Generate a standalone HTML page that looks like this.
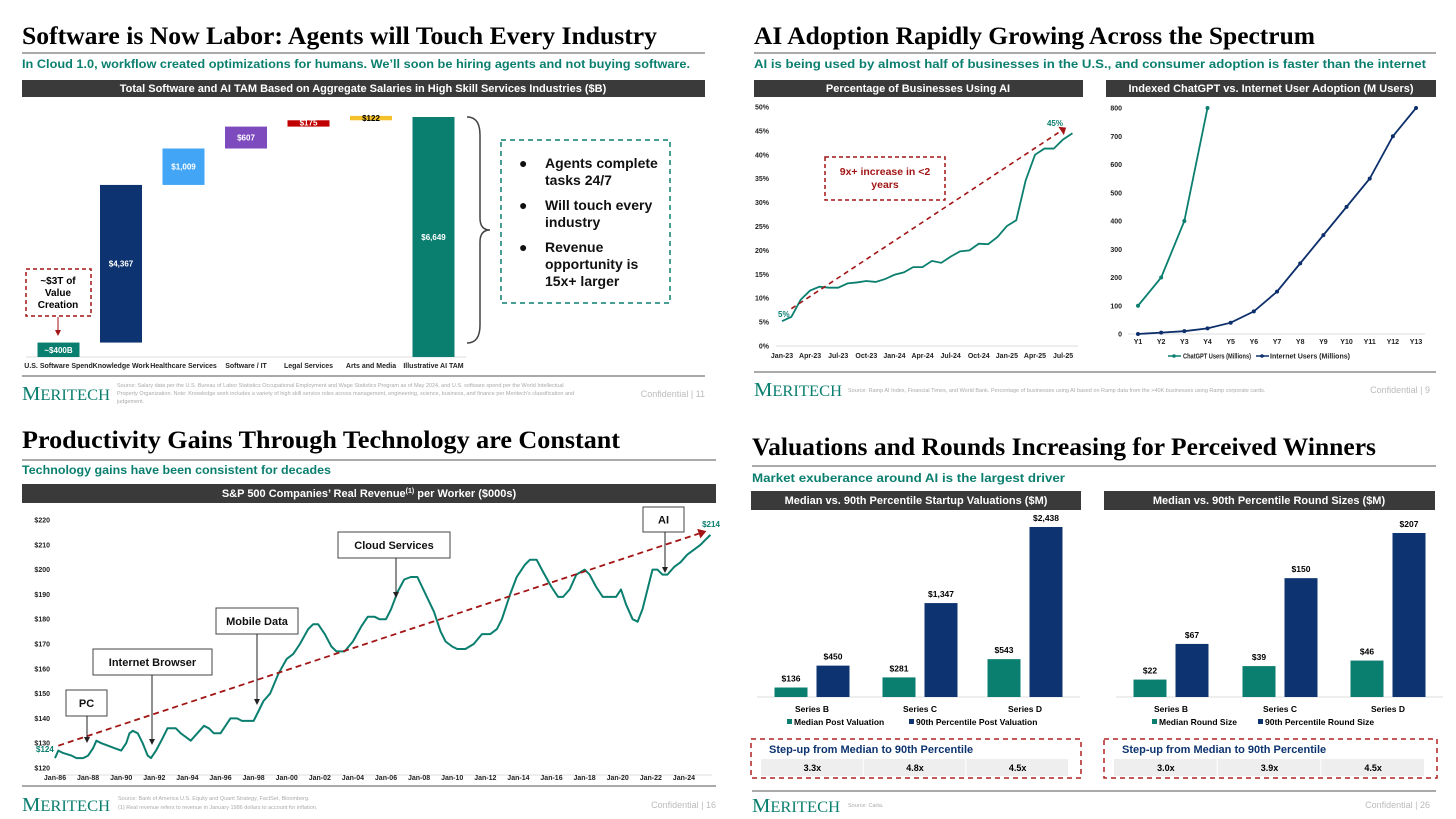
<!DOCTYPE html>
<html><head><meta charset="utf-8"><style>
html,body{margin:0;padding:0;background:#fff;}
svg{display:block;font-family:"Liberation Sans",Arial,sans-serif;}
.ttl{font-family:"Liberation Serif",serif;font-weight:bold;font-size:25px;fill:#000;}
.sub{font-weight:bold;font-size:12px;fill:#0b7f6f;}
.hdr{font-weight:bold;font-size:11px;fill:#fff;}
.ax{font-weight:bold;font-size:7px;fill:#222;}
.logo{font-family:"Liberation Serif",serif;font-size:20px;fill:#0b7f6f;}
.src{font-size:5.5px;fill:#aaa;}
.conf{font-size:9px;fill:#bbb;}
.ann{font-weight:bold;font-size:11px;fill:#111;}
</style></head><body>
<svg id="root" width="1456" height="819" viewBox="0 0 1456 819">
<!-- Slide 1 -->
<g>
<text class="ttl" x="22" y="44" textLength="635" lengthAdjust="spacingAndGlyphs">Software is Now Labor: Agents will Touch Every Industry</text>
<line x1="22" y1="53" x2="705" y2="53" stroke="#555" stroke-width="1"/>
<text class="sub" x="22" y="68" textLength="668" lengthAdjust="spacingAndGlyphs">In Cloud 1.0, workflow created optimizations for humans. We’ll soon be hiring agents and not buying software.</text>
<rect x="22" y="80" width="683" height="17" fill="#3a3a3a"/>
<text class="hdr" x="363" y="92" text-anchor="middle">Total Software and AI TAM Based on Aggregate Salaries in High Skill Services Industries ($B)</text>
<line x1="26" y1="357" x2="466" y2="357" stroke="#ddd"/>
<g id="wf"></g>
<rect x="26" y="269" width="65" height="47" fill="none" stroke="#a31515" stroke-width="1.5" stroke-dasharray="4,3"/>
<text x="58" y="284" text-anchor="middle" font-weight="bold" font-size="10"><tspan x="58">~$3T of</tspan><tspan x="58" dy="12">Value</tspan><tspan x="58" dy="12">Creation</tspan></text>
<line x1="58" y1="317" x2="58" y2="331" stroke="#a31515" stroke-width="1"/>
<polygon points="55,330 61,330 58,336" fill="#a31515"/>
<path d="M467,117 Q480,117 480,135 L480,218 Q480,230 490,230 Q480,230 480,242 L480,325 Q480,343 467,343" fill="none" stroke="#444" stroke-width="1.5"/>
<rect x="501" y="140" width="169" height="163" fill="none" stroke="#0b7f6f" stroke-width="1.5" stroke-dasharray="5,4"/>
<g font-weight="bold" font-size="14" fill="#111">
<text x="519" y="168">●</text><text x="545" y="168">Agents complete</text><text x="545" y="185">tasks 24/7</text>
<text x="519" y="210">●</text><text x="545" y="210">Will touch every</text><text x="545" y="227">industry</text>
<text x="519" y="252">●</text><text x="545" y="252">Revenue</text><text x="545" y="269">opportunity is</text><text x="545" y="286">15x+ larger</text>
</g>
<line x1="22" y1="376" x2="705" y2="376" stroke="#555"/>
<text class="logo" x="22" y="400" textLength="88" lengthAdjust="spacingAndGlyphs">M<tspan font-size="16">ERITECH</tspan></text>
<text class="src" x="117" y="387"><tspan x="117">Source: Salary data per the U.S. Bureau of Labor Statistics Occupational Employment and Wage Statistics Program as of May 2024, and U.S. software spend per the World Intellectual</tspan><tspan x="117" dy="8">Property Organization. Note: Knowledge work includes a variety of high skill service roles across management, engineering, science, business, and finance per Meritech's classification and</tspan><tspan x="117" dy="8">judgement.</tspan></text>
<text class="conf" x="705" y="397" text-anchor="end">Confidential | 11</text>
</g>

<!-- Slide 2 -->
<g>
<text class="ttl" x="754" y="44" textLength="561" lengthAdjust="spacingAndGlyphs">AI Adoption Rapidly Growing Across the Spectrum</text>
<line x1="754" y1="53" x2="1436" y2="53" stroke="#555"/>
<text class="sub" x="754" y="68" textLength="672" lengthAdjust="spacingAndGlyphs">AI is being used by almost half of businesses in the U.S., and consumer adoption is faster than the internet</text>
<rect x="754" y="80" width="329" height="17" fill="#3a3a3a"/>
<text class="hdr" x="918" y="92" text-anchor="middle">Percentage of Businesses Using AI</text>
<rect x="1106" y="80" width="330" height="17" fill="#3a3a3a"/>
<text class="hdr" x="1271" y="92" text-anchor="middle">Indexed ChatGPT vs. Internet User Adoption (M Users)</text>
<g id="ramp"></g>
<rect x="825" y="157" width="120" height="43" fill="none" stroke="#a31515" stroke-width="1.5" stroke-dasharray="4,3"/>
<text x="885" y="175" text-anchor="middle" font-weight="bold" font-size="10.5" fill="#a31515"><tspan x="885">9x+ increase in &lt;2</tspan><tspan x="885" dy="13">years</tspan></text>
<text x="778" y="317" font-weight="bold" font-size="8" fill="#0b7f6f">5%</text>
<text x="1055" y="126" text-anchor="middle" font-weight="bold" font-size="8" fill="#0b7f6f">45%</text>
<g id="adopt"></g>
<g>
<line x1="1168" y1="356" x2="1181" y2="356" stroke="#0b7f6f" stroke-width="1.5"/><circle cx="1174" cy="356" r="1.8" fill="#0b7f6f"/>
<text class="ax" x="1183" y="358.5" font-size="6.5" textLength="68" lengthAdjust="spacingAndGlyphs">ChatGPT Users (Millions)</text>
<line x1="1256" y1="356" x2="1269" y2="356" stroke="#0d2f6b" stroke-width="1.5"/><circle cx="1262" cy="356" r="1.8" fill="#0d2f6b"/>
<text class="ax" x="1270" y="358.5" font-size="6.5" textLength="80" lengthAdjust="spacingAndGlyphs">Internet Users (Millions)</text>
</g>
<line x1="754" y1="372" x2="1436" y2="372" stroke="#555"/>
<text class="logo" x="754" y="396" textLength="88" lengthAdjust="spacingAndGlyphs">M<tspan font-size="16">ERITECH</tspan></text>
<text class="src" x="848" y="392">Source: Ramp AI Index, Financial Times, and World Bank. Percentage of businesses using AI based on Ramp data from the &gt;40K businesses using Ramp corporate cards.</text>
<text class="conf" x="1430" y="393" text-anchor="end">Confidential | 9</text>
</g>

<!-- Slide 3 -->
<g>
<text class="ttl" x="22" y="448" textLength="598" lengthAdjust="spacingAndGlyphs">Productivity Gains Through Technology are Constant</text>
<line x1="22" y1="460" x2="716" y2="460" stroke="#555"/>
<text class="sub" x="22" y="474" textLength="309" lengthAdjust="spacingAndGlyphs">Technology gains have been consistent for decades</text>
<rect x="22" y="484" width="694" height="19" fill="#3a3a3a"/>
<text class="hdr" x="369" y="497" text-anchor="middle">S&amp;P 500 Companies’ Real Revenue<tspan font-size="7" dy="-4">(1)</tspan><tspan dy="4"> per Worker ($000s)</tspan></text>
<g id="rev"></g>
<g id="anns"></g>
<text x="36" y="752" font-weight="bold" font-size="8" fill="#0b7f6f">$124</text>
<text x="711" y="527" text-anchor="middle" font-weight="bold" font-size="8" fill="#0b7f6f">$214</text>
<line x1="22" y1="786" x2="716" y2="786" stroke="#555"/>
<text class="logo" x="22" y="811" textLength="88" lengthAdjust="spacingAndGlyphs">M<tspan font-size="16">ERITECH</tspan></text>
<text class="src" x="118" y="800"><tspan x="118">Source: Bank of America U.S. Equity and Quant Strategy, FactSet, Bloomberg.</tspan><tspan x="118" dy="9">(1) Real revenue refers to revenue in January 1986 dollars to account for inflation.</tspan></text>
<text class="conf" x="716" y="808" text-anchor="end">Confidential | 16</text>
</g>

<!-- Slide 4 -->
<g>
<text class="ttl" x="752" y="455" textLength="624" lengthAdjust="spacingAndGlyphs">Valuations and Rounds Increasing for Perceived Winners</text>
<line x1="752" y1="466" x2="1436" y2="466" stroke="#555"/>
<text class="sub" x="752" y="482" textLength="313" lengthAdjust="spacingAndGlyphs">Market exuberance around AI is the largest driver</text>
<rect x="751" y="491" width="330" height="19" fill="#3a3a3a"/>
<text class="hdr" x="916" y="504" text-anchor="middle">Median vs. 90th Percentile Startup Valuations ($M)</text>
<rect x="1104" y="491" width="331" height="19" fill="#3a3a3a"/>
<text class="hdr" x="1269" y="504" text-anchor="middle">Median vs. 90th Percentile Round Sizes ($M)</text>
<g id="val"></g>
<g id="rnd"></g>
<g>
<rect x="787" y="719" width="5" height="5" fill="#0b7f6f"/><text x="794" y="725" font-weight="bold" font-size="8.5">Median Post Valuation</text>
<rect x="909" y="719" width="5" height="5" fill="#0d3470"/><text x="916" y="725" font-weight="bold" font-size="8.5">90th Percentile Post Valuation</text>
</g>
<g>
<rect x="1152" y="719" width="5" height="5" fill="#0b7f6f"/><text x="1159" y="725" font-weight="bold" font-size="8.5">Median Round Size</text>
<rect x="1258" y="719" width="5" height="5" fill="#0d3470"/><text x="1265" y="725" font-weight="bold" font-size="8.5">90th Percentile Round Size</text>
</g>
<g id="steps"></g>
<line x1="752" y1="791" x2="1436" y2="791" stroke="#555"/>
<text class="logo" x="752" y="812" textLength="88" lengthAdjust="spacingAndGlyphs">M<tspan font-size="16">ERITECH</tspan></text>
<text class="src" x="848" y="807">Source: Carta.</text>
<text class="conf" x="1430" y="808" text-anchor="end">Confidential | 26</text>
</g>
</svg>
<script>
// ---- Waterfall data ----
const wfCategories = ['U.S. Software Spend','Knowledge Work','Healthcare Services','Software / IT','Legal Services','Arts and Media','Illustrative AI TAM'];
const wfValues = [400, 4367, 1009, 607, 175, 122, 6649];
const wfLabels = ['~$400B','$4,367','$1,009','$607','$175','$122','$6,649'];
// ---- Ramp data ----
const rampMonths = ['Jan-23','Apr-23','Jul-23','Oct-23','Jan-24','Apr-24','Jul-24','Oct-24','Jan-25','Apr-25','Jul-25'];
const rampValues = [5.2,6.1,9.7,11.6,12.4,12.2,12.2,13.1,13.3,13.6,13.4,14.0,14.9,15.4,16.5,16.5,17.8,17.4,18.7,19.8,20.0,21.4,21.3,22.8,25.1,26.3,34.6,40.0,41.3,41.3,43.2,44.5];
const rampTicks = [0,5,10,15,20,25,30,35,40,45,50];
// ---- Adoption data ----
const adoptYears = ['Y1','Y2','Y3','Y4','Y5','Y6','Y7','Y8','Y9','Y10','Y11','Y12','Y13'];
const chatgptUsers = [100,200,400,800];
const internetUsers = [0,5,10,20,40,80,150,250,350,450,550,700,800];
const adoptTicks = [0,100,200,300,400,500,600,700,800];
// ---- Revenue per worker data ----
const revYears = [1986.0,1986.2,1986.5,1987.0,1987.3,1987.7,1988.0,1988.3,1988.5,1988.8,1989.2,1989.6,1990.0,1990.3,1990.5,1990.7,1991.0,1991.3,1991.6,1991.8,1992.1,1992.5,1992.8,1993.3,1993.6,1994.0,1994.2,1994.6,1995.0,1995.3,1995.6,1996.0,1996.3,1996.6,1997.0,1997.3,1998.0,1998.3,1998.6,1999.0,1999.5,2000.0,2000.4,2000.8,2001.3,2001.6,2001.9,2002.3,2002.7,2003.0,2003.5,2004.0,2004.5,2004.9,2005.3,2005.6,2006.0,2006.3,2006.7,2007.1,2007.5,2007.9,2008.4,2008.9,2009.3,2009.6,2010.0,2010.3,2010.8,2011.3,2011.8,2012.3,2012.7,2013.0,2013.5,2013.9,2014.4,2014.7,2015.1,2015.5,2016.0,2016.4,2016.7,2017.1,2017.5,2018.0,2018.3,2018.7,2019.1,2019.5,2019.9,2020.2,2020.5,2020.9,2021.2,2021.5,2021.8,2022.1,2022.4,2022.7,2023.0,2023.4,2023.8,2024.2,2024.6,2025.0,2025.3,2025.6];
const revValues = [124,127,126,125,124,124,125,128,131,130,129,128,127,130,134,135,134,130,125,124,127,132,136,136,134,132,131,134,137,136,134,134,137,140,140,139,139,143,147,150,158,164,166,170,176,178,178,174,169,167,167,171,177,181,181,180,180,184,191,196,197,197,190,183,175,171,169,168,168,170,174,174,176,180,190,197,202,204,204,199,193,189,189,192,198,200,198,193,189,189,189,192,186,180,179,184,192,200,200,198,198,201,203,206,208,210,212,214];
const revTicks = [120,130,140,150,160,170,180,190,200,210,220];
const revXLabels = ['Jan-86','Jan-88','Jan-90','Jan-92','Jan-94','Jan-96','Jan-98','Jan-00','Jan-02','Jan-04','Jan-06','Jan-08','Jan-10','Jan-12','Jan-14','Jan-16','Jan-18','Jan-20','Jan-22','Jan-24'];
const revLabelYears = [1986,1988,1990,1992,1994,1996,1998,2000,2002,2004,2006,2008,2010,2012,2014,2016,2018,2020,2022,2024];
// ---- Valuations / rounds ----
const stageNames = ['Series B','Series C','Series D'];
const medianValuation = [136,281,543];
const p90Valuation = [450,1347,2438];
const medianRound = [22,39,46];
const p90Round = [67,150,207];
const valStepups = ['3.3x','4.8x','4.5x'];
const rndStepups = ['3.0x','3.9x','4.5x'];

const NS='http://www.w3.org/2000/svg';
function mk(tag, attrs, parent){const e=document.createElementNS(NS,tag);for(const k in attrs)e.setAttribute(k,attrs[k]);parent.appendChild(e);return e;}
function fmt(v){return '$'+v.toLocaleString('en-US');}
const TEAL='#0b7f6f', NAVY='#0d3470';

// Waterfall
(function(){
  const g=document.getElementById('wf');
  const wfFill=['#0b7f6f','#0d3470','#42a5f5','#7e4bbf','#c00000','#f5c12a','#0b7f6f'];
  const total=wfValues[wfValues.length-1];
  const sy=v=>357-v*240/total;
  const cx=i=>58.5+i*62.5;
  let cum=0;
  wfValues.forEach((v,i)=>{
    let lo,hi;
    if(i===wfValues.length-1){lo=0;hi=v;}else{lo=cum;hi=cum+v;cum=hi;}
    const r=mk('rect',{x:cx(i)-21,y:sy(hi),width:42,height:Math.max(1,sy(lo)-sy(hi)),fill:wfFill[i]},g);
    
    
    const small=(sy(lo)-sy(hi))<10;
    const t=mk('text',{x:cx(i),y:small?sy(hi)+5:(sy(lo)+sy(hi))/2+3,'text-anchor':'middle','font-weight':'bold','font-size':'8',fill:(i===5?'#000':'#fff')},g);
    t.textContent=wfLabels[i];
    
    
    const c=mk('text',{x:cx(i),y:368,'text-anchor':'middle',class:'ax','font-size':'6'},g);
    c.textContent=wfCategories[i];
    
    
  });
})();

// Ramp line chart
(function(){
  const g=document.getElementById('ramp');
  const x=i=>782+i*9.37, y=v=>346-v*4.78;
  rampTicks.forEach(t=>{
    const e=mk('text',{x:769,y:y(t)+2.5,'text-anchor':'end',class:'ax','font-size':'6.5'},g);
    e.textContent=t+'%';
    
    
  });
  const ax=mk('line',{x1:776,y1:y(0),x2:1078,y2:y(0),stroke:'#ddd'},g);
  
  
  rampMonths.forEach((m,k)=>{
    const e=mk('text',{x:x(k*3),y:358,'text-anchor':'middle',class:'ax','font-size':'6.5'},g);
    e.textContent=m;
    
    
  });
  const p=mk('polyline',{points:rampValues.map((v,i)=>x(i)+','+y(v)).join(' '),fill:'none',stroke:TEAL,'stroke-width':'1.8'},g);
  
  
  const i0=1,i1=rampValues.length-2;
  const x0=x(i0),y0=y(rampValues[0]+2.6),x1=x(i1)-2,y1=y(rampValues[rampValues.length-1]+0.5);
  const d=mk('line',{x1:x0,y1:y0,x2:x1,y2:y1,stroke:'#a31515','stroke-width':'1.6','stroke-dasharray':'5,4'},g);
  
  
  const ang=Math.atan2(y1-y0,x1-x0);
  const h=mk('polygon',{points:`${x1+6*Math.cos(ang)},${y1+6*Math.sin(ang)} ${x1+5*Math.sin(ang)},${y1-5*Math.cos(ang)} ${x1-5*Math.sin(ang)},${y1+5*Math.cos(ang)}`,fill:'#a31515'},g);
  
  
})();

// Adoption chart
(function(){
  const g=document.getElementById('adopt');
  const x=i=>1138+i*23.17, y=v=>334-v*226/800;
  adoptTicks.forEach(t=>{
    const e=mk('text',{x:1122,y:y(t)+2.5,'text-anchor':'end',class:'ax','font-size':'6.5'},g);
    e.textContent=t;
    
    
  });
  const ax=mk('line',{x1:1128,y1:y(0),x2:1425,y2:y(0),stroke:'#ddd'},g);
  
  
  adoptYears.forEach((m,i)=>{
    const e=mk('text',{x:x(i),y:344,'text-anchor':'middle',class:'ax','font-size':'6.5'},g);
    e.textContent=m;
    
    
  });
  [[chatgptUsers,TEAL,'chatgpt'],[internetUsers,'#0d2f6b','internet']].forEach(([arr,col,nm])=>{
    const p=mk('polyline',{points:arr.map((v,i)=>x(i)+','+y(v)).join(' '),fill:'none',stroke:col,'stroke-width':'1.8'},g);
    
    
    arr.forEach((v,i)=>{
      const c=mk('circle',{cx:x(i),cy:y(v),r:2,fill:col},g);
      
      
    });
  });
})();

// Revenue chart
(function(){
  const g=document.getElementById('rev');
  const x=yr=>55+(yr-1986)*16.55, y=v=>768-(v-120)*2.48;
  revTicks.forEach(t=>{
    const e=mk('text',{x:50,y:y(t)+2.5,'text-anchor':'end',class:'ax','font-size':'7'},g);
    e.textContent='$'+t;
    
    
  });
  const ax=mk('line',{x1:52,y1:y(120)+7,x2:712,y2:y(120)+7,stroke:'#ddd'},g);
  
  
  revXLabels.forEach((l,i)=>{
    const e=mk('text',{x:x(revLabelYears[i]),y:780,'text-anchor':'middle',class:'ax','font-size':'7'},g);
    e.textContent=l;
    
    
  });
  const p=mk('polyline',{points:revValues.map((v,i)=>x(revYears[i]).toFixed(1)+','+y(v).toFixed(1)).join(' '),fill:'none',stroke:TEAL,'stroke-width':'2','stroke-linejoin':'round'},g);
  
  
  const x0=x(1986.2),y0=y(129),x1=x(2024.9),y1=y(214.5);
  const d=mk('line',{x1:x0,y1:y0,x2:x1,y2:y1,stroke:'#a31515','stroke-width':'1.8','stroke-dasharray':'6,4'},g);
  
  
  const ang=Math.atan2(y1-y0,x1-x0);
  const h=mk('polygon',{points:`${x1+8*Math.cos(ang)},${y1+8*Math.sin(ang)} ${x1+5*Math.sin(ang)},${y1-5*Math.cos(ang)} ${x1-5*Math.sin(ang)},${y1+5*Math.cos(ang)}`,fill:'#a31515'},g);
  
  
  const a=document.getElementById('anns');
  const boxes=[['PC',66,690,41,26,87,743],['Internet Browser',93,649,119,26,152,745],['Mobile Data',216,608,82,26,257,705],['Cloud Services',338,532,112,26,396,598],['AI',643,507,41,25,665,573]];
  boxes.forEach(b=>{
    const r=mk('rect',{x:b[1],y:b[2],width:b[3],height:b[4],fill:'#fff',stroke:'#444','stroke-width':'1'},a);
    
    
    const t=mk('text',{x:b[1]+b[3]/2,y:b[2]+b[4]/2+4,'text-anchor':'middle',class:'ann'},a);
    t.textContent=b[0];
    
    
    const l=mk('line',{x1:b[5],y1:b[2]+b[4],x2:b[5],y2:b[6]-5,stroke:'#222','stroke-width':'1'},a);
    
    
    const hd=mk('polygon',{points:`${b[5]-3},${b[6]-6} ${b[5]+3},${b[6]-6} ${b[5]},${b[6]}`,fill:'#222'},a);
    
    
  });
})();

// Bar charts
function bars(gid,med,p90,centers,scale,prefix){
  const g=document.getElementById(gid);
  const y=v=>697-v*scale;
  const ax=mk('line',{x1:centers[0]-55,y1:697,x2:centers[2]+55,y2:697,stroke:'#ddd'},g);
  
  
  stageNames.forEach((s,i)=>{
    [[med[i],-21,TEAL,'median'],[p90[i],21,NAVY,'p90']].forEach(([v,off,col,nm])=>{
      const r=mk('rect',{x:centers[i]+off-16.5,y:y(v),width:33,height:697-y(v),fill:col},g);
      
      
      const t=mk('text',{x:centers[i]+off,y:y(v)-6,'text-anchor':'middle','font-weight':'bold','font-size':'8.5'},g);
      t.textContent=fmt(v);
      
      
    });
    const c=mk('text',{x:centers[i],y:712,'text-anchor':'middle','font-weight':'bold','font-size':'8.5'},g);
    c.textContent=s;
    
    
  });
}
bars('val',medianValuation,p90Valuation,[812,920,1025],170/2438,'valuations');
bars('rnd',medianRound,p90Round,[1171,1280,1388],164/207,'rounds');

// Step-up tables
(function(){
  const g=document.getElementById('steps');
  [[751,330,valStepups,'valuations'],[1104,333,rndStepups,'rounds']].forEach(([x0,w,vals,nm])=>{
    const b=mk('rect',{x:x0,y:739,width:w,height:39,fill:'none',stroke:'#b22222','stroke-width':'1.5','stroke-dasharray':'5,4'},g);
    
    
    const t=mk('text',{x:x0+18,y:753,'font-weight':'bold','font-size':'11',fill:'#0d3470'},g);
    t.textContent='Step-up from Median to 90th Percentile';
    
    
    const cw=(w-22)/3;
    vals.forEach((v,i)=>{
      const r=mk('rect',{x:x0+10+i*cw,y:759,width:cw-1,height:17,fill:'#eee'},g);
      
      
      const tx=mk('text',{x:x0+10+i*cw+cw/2,y:771,'text-anchor':'middle','font-weight':'bold','font-size':'9'},g);
      tx.textContent=v;
      
      
    });
  });
})();
</script>
</body></html>
